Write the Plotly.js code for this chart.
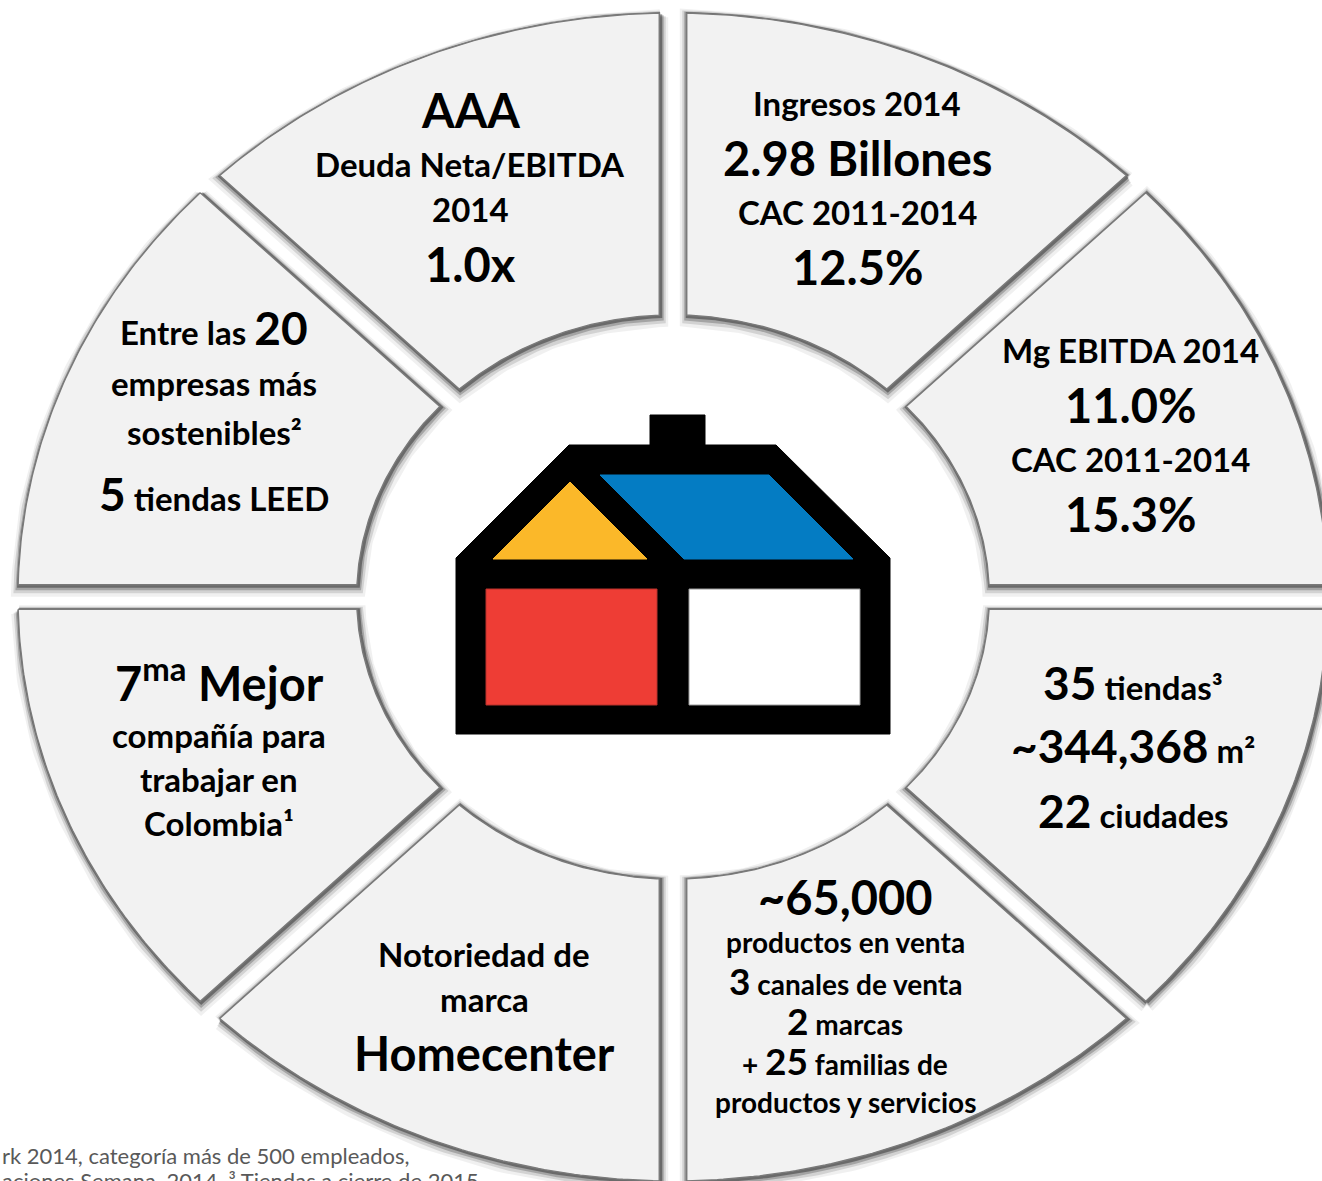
<!DOCTYPE html>
<html lang="es">
<head>
<meta charset="UTF-8">
<title>Homecenter - cifras clave</title>
<script src="https://cdn.plot.ly/plotly-3.0.1.min.js"></script>
<style>
  body { margin: 0; background: #fff; }
  #chart { width: 1322px; height: 1181px; }
</style>
</head>
<body>
<div id="chart"></div>
<script>
// ocho sectores iguales, en sentido horario desde las 12
const sectorNames = ['Ingresos', 'EBITDA', 'Tiendas', 'Productos', 'Marca', 'Empleador', 'Sostenibilidad', 'Calificacion'];
const sectorShares = [1, 1, 1, 1, 1, 1, 1, 1];

// textos por sector; {..} = cifra destacada, ^.. = superindice
const txtIngresos = ['Ingresos 2014', '2.98 Billones', 'CAC 2011-2014', '12.5%'];
const txtEbitda = ['Mg EBITDA 2014', '11.0%', 'CAC 2011-2014', '15.3%'];
const txtTiendas = ['{35} tiendas³', '{~344,368} m²', '{22} ciudades'];
const txtProductos = ['~65,000', 'productos en venta', '{3} canales de venta', '{2} marcas', '+ {25} familias de', 'productos y servicios'];
const txtMarca = ['Notoriedad de', 'marca', 'Homecenter'];
const txtEmpleador = ['7^ma Mejor', 'compañía para', 'trabajar en', 'Colombia¹'];
const txtSostenib = ['Entre las {20}', 'empresas más', 'sostenibles²', '{5} tiendas LEED'];
const txtCalif = ['AAA', 'Deuda Neta/EBITDA', '2014', '1.0x'];
const sectorTexts = [txtIngresos, txtEbitda, txtTiendas, txtProductos, txtMarca, txtEmpleador, txtSostenib, txtCalif];

const footnotes = ['rk 2014, categoría más de 500 empleados,', 'aciones Semana, 2014. ³ Tiendas a cierre de 2015'];

// ---- presentación (posiciones en px de la imagen, tamaños) ----
const CX = 673, CY = 597, RXPX = 655, RYPX = 584;
const X = px => (px - CX) / RXPX;
const Y = py => (CY - py) / RYPX;

const R_OUT = 1.0, R_IN = 0.483, GAP = 0.021;
const FONT = 'Lato, "Open Sans", sans-serif';
const SIZE = { b: 47, m: 33, s: 28 };
const NUM_SIZE = { m: 46, s: 37 };

const lineRoles = [
  ['m', 'b', 'm', 'b'],
  ['m', 'b', 'm', 'b'],
  ['m', 'm', 'm'],
  ['b', 's', 's', 's', 's', 's'],
  ['m', 'm', 'b'],
  ['b', 'm', 'm', 'm'],
  ['m', 'm', 'm', 'm'],
  ['b', 'm', 'm', 'b']
];
const lineX = [857, 1130, 1133, 845, 484, 219, 214, 470];
const lineY = [
  [103, 158, 212, 267],
  [350, 405, 459, 514],
  [682, 745, 810],
  [897, 942, 980, 1020, 1060, 1102],
  [954, 999, 1053],
  [680, 735, 779, 823],
  [327, 383, 432, 493],
  [110, 164, 209, 264]
];

// logo (px)
const logoParts = [
  { d: [[650,415],[705,415],[705,445],[776,445],[890,558],[890,734],[456,734],[456,558],[569,445],[650,445]], fill: '#000000', line: '#000000' },
  { d: [[570,482],[647,559],[493,559]], fill: '#fbb829', line: '#fbb829' },
  { d: [[600,475],[769,475],[853,559],[684,559]], fill: '#047cc3', line: '#047cc3' },
  { d: [[486,589],[657,589],[657,705],[486,705]], fill: '#ee3d35', line: '#b8322c' },
  { d: [[689,589],[860,589],[860,705],[689,705]], fill: '#ffffff', line: '#9a9a9a' }
];

function sector(a0, a1, dx, dy) {
  const xs = [], ys = [], n = 80;
  const o0 = a0 + Math.asin(GAP / R_OUT), o1 = a1 - Math.asin(GAP / R_OUT);
  const i0 = a0 + Math.asin(GAP / R_IN), i1 = a1 - Math.asin(GAP / R_IN);
  for (let k = 0; k <= n; k++) {
    const a = o0 + (o1 - o0) * k / n;
    xs.push(R_OUT * Math.cos(a) + dx); ys.push(R_OUT * Math.sin(a) + dy);
  }
  for (let k = 0; k <= n; k++) {
    const a = i1 + (i0 - i1) * k / n;
    xs.push(R_IN * Math.cos(a) + dx); ys.push(R_IN * Math.sin(a) + dy);
  }
  xs.push(xs[0]); ys.push(ys[0]);
  return { x: xs, y: ys };
}

const total = sectorShares.reduce((a, b) => a + b, 0);
const traces = [];
const shadowLayers = [
  { w: 16, c: 'rgba(0,0,0,0.06)', dy: -4 },
  { w: 11, c: 'rgba(0,0,0,0.12)', dy: -3 },
  { w: 7, c: 'rgba(0,0,0,0.22)', dy: -2 },
  { w: 4, c: 'rgba(0,0,0,0.35)', dy: -1 }
];
const polys = [];
let start = Math.PI / 2;
sectorShares.forEach((v, i) => {
  const end = start - 2 * Math.PI * v / total;
  polys.push([end, start]);
  start = end;
});
shadowLayers.forEach(s => {
  polys.forEach((p, i) => {
    const g = sector(p[0], p[1], 1 / RXPX, s.dy / RYPX);
    traces.push({ x: g.x, y: g.y, type: 'scatter', mode: 'lines', line: { color: s.c, width: s.w },
      hoverinfo: 'skip', showlegend: false });
  });
});
polys.forEach((p, i) => {
  const g = sector(p[0], p[1], 0, 0);
  traces.push({ x: g.x, y: g.y, type: 'scatter', mode: 'lines', fill: 'toself',
    fillcolor: '#f2f2f2', line: { color: '#7a7a7a', width: 1.4 }, name: sectorNames[i],
    hoverinfo: 'name', showlegend: false });
});

function fmt(s, role) {
  let out = s.replace(/\{(.+?)\}/g, (m, t) => `<span style="font-size:${NUM_SIZE[role] || SIZE.b}px">${t}</span>`);
  out = out.replace(/\^(\w+)/g, '<sup>$1</sup>');
  return '<b>' + out + '</b>';
}

const annotations = [];
sectorTexts.forEach((lines, i) => {
  lines.forEach((t, j) => {
    const role = lineRoles[i][j];
    annotations.push({ x: X(lineX[i]), y: Y(lineY[i][j]), xref: 'x', yref: 'y',
      text: fmt(t, role), showarrow: false, xanchor: 'center', yanchor: 'middle',
      font: { family: FONT, size: SIZE[role], color: '#000000' } });
  });
});
footnotes.forEach((t, j) => {
  annotations.push({ x: 0, y: Y(1155 + j * 25), xref: 'paper', yref: 'y', text: t,
    showarrow: false, xanchor: 'left', yanchor: 'middle',
    font: { family: FONT, size: 22, color: '#595959' } });
});

const shapes = logoParts.map(p => ({
  type: 'path', xref: 'x', yref: 'y',
  path: 'M ' + p.d.map(q => X(q[0]) + ',' + Y(q[1])).join(' L ') + ' Z',
  fillcolor: p.fill, line: { color: p.line, width: 1 }
}));

const layout = {
  width: 1322, height: 1181,
  margin: { l: 0, r: 0, t: 0, b: 0 },
  paper_bgcolor: '#ffffff', plot_bgcolor: '#ffffff',
  xaxis: { range: [X(0), X(1322)], visible: false, fixedrange: true },
  yaxis: { range: [Y(1181), Y(0)], visible: false, fixedrange: true },
  showlegend: false,
  annotations: annotations,
  shapes: shapes
};

Plotly.newPlot('chart', traces, layout, { displayModeBar: false, staticPlot: true });
</script>
</body>
</html>
